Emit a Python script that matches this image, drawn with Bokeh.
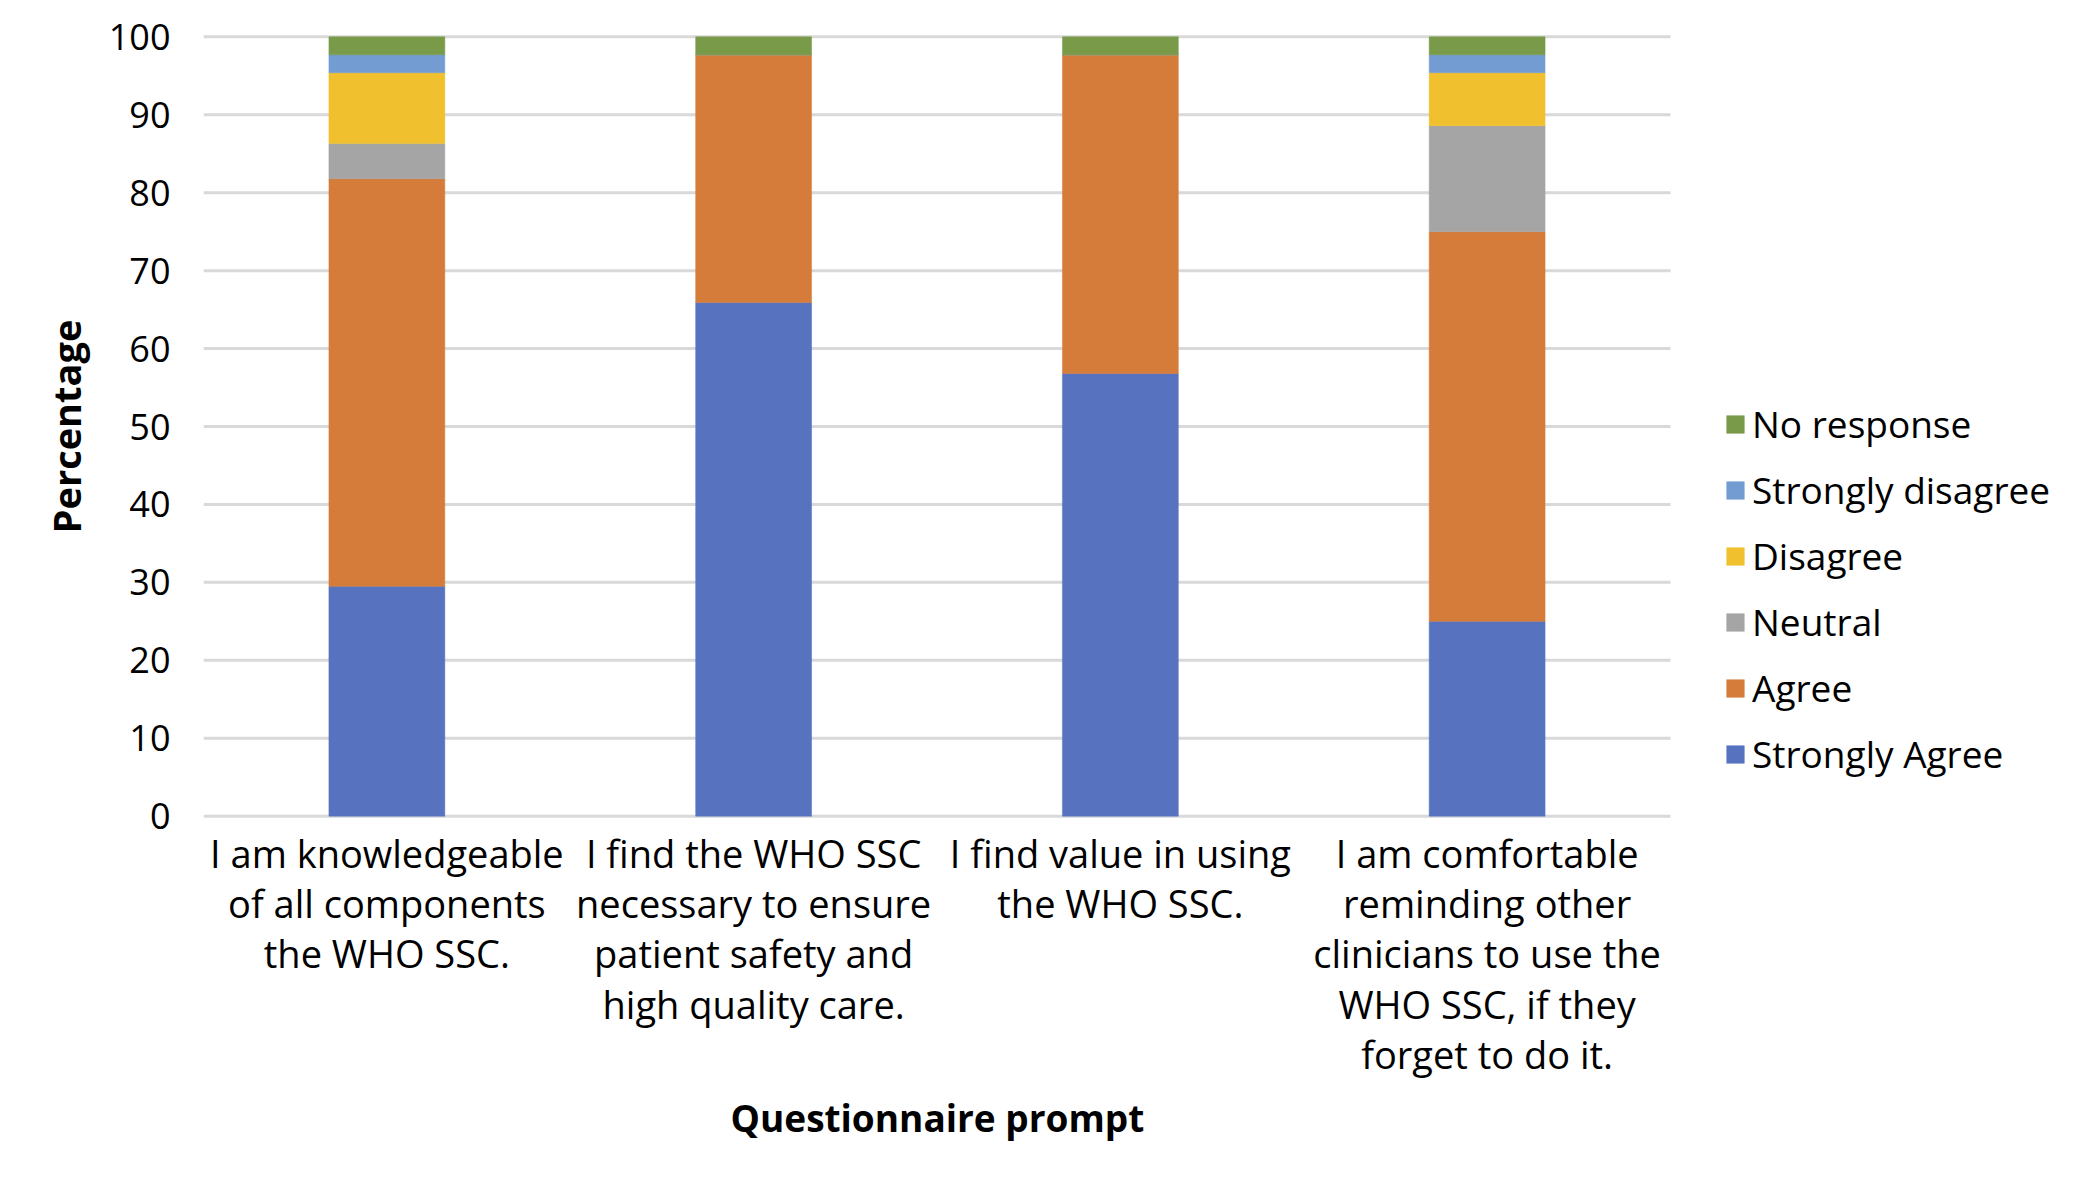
from bokeh.plotting import figure
from bokeh.models import Range1d, Legend, LegendItem, FixedTicker, ColumnDataSource, Title
from bokeh.embed import file_html
from bokeh.resources import INLINE

prompts = [
    "I am knowledgeable\nof all components\nthe WHO SSC.",
    "I find the WHO SSC\nnecessary to ensure\npatient safety and\nhigh quality care.",
    "I find value in using\nthe WHO SSC.",
    "I am comfortable\nreminding other\nclinicians to use the\nWHO SSC, if they\nforget to do it.",
]
series = ["Strongly Agree", "Agree", "Neutral", "Disagree", "Strongly disagree", "No response"]
strongly_agree = [29.5, 65.9, 56.8, 25.0]
agree = [52.3, 31.8, 40.9, 50.0]
neutral = [4.5, 0.0, 0.0, 13.6]
disagree = [9.1, 0.0, 0.0, 6.8]
strongly_disagree = [2.3, 0.0, 0.0, 2.3]
no_response = [2.3, 2.3, 2.3, 2.3]
y_ticks = [0, 10, 20, 30, 40, 50, 60, 70, 80, 90, 100]
colors = ["#5773C0", "#D57C3A", "#A5A5A5", "#F0C02F", "#739CD3", "#799A49"]

n = len(prompts)
xs = [i + 0.5 for i in range(n)]
keys = ["sa", "ag", "ne", "di", "sd", "nr"]
source = ColumnDataSource(dict(x=xs, sa=strongly_agree, ag=agree, ne=neutral,
                               di=disagree, sd=strongly_disagree, nr=no_response))

W, H = 2092, 1183
LEFT, TOP, BOTTOM = 203, 34, 365
CAT_PX = 1467  # pixel width occupied by the categories
frame_w = W - LEFT
FONT = "Open Sans"

p = figure(width=W, height=H, output_backend="svg", toolbar_location=None,
           x_range=Range1d(0, n * frame_w / CAT_PX),
           y_range=Range1d(-0.3, 100.3),
           min_border_left=LEFT, min_border_right=0, min_border_top=TOP, min_border_bottom=BOTTOM)

# horizontal gridlines spanning only the category area
p.segment(x0=[0] * len(y_ticks), x1=[n] * len(y_ticks), y0=y_ticks, y1=y_ticks,
          line_color="#D9D9D9", line_width=3, level="underlay")

renderers = p.vbar_stack(keys, x="x", width=0.316, source=source,
                         fill_color=colors, line_color=colors, line_width=0.5)

p.outline_line_color = None
p.background_fill_color = "white"
p.xgrid.grid_line_color = None
p.ygrid.grid_line_color = None

p.yaxis.ticker = FixedTicker(ticks=y_ticks)
p.xaxis.ticker = FixedTicker(ticks=xs)
p.xaxis.major_label_overrides = {x: lab for x, lab in zip(xs, prompts)}
for ax in (p.xaxis[0], p.yaxis[0]):
    ax.axis_line_color = None
    ax.major_tick_line_color = None
    ax.minor_tick_line_color = None
    ax.major_tick_out = 0
    ax.major_tick_in = 0
    ax.minor_tick_out = 0
    ax.major_label_text_font = FONT
    ax.major_label_text_color = "black"
    ax.axis_label_text_font = FONT
    ax.axis_label_text_font_style = "bold"
    ax.axis_label_text_color = "black"

p.yaxis.major_label_text_font_size = "36px"
p.yaxis.major_label_standoff = 33
p.yaxis.axis_label = "Percentage"
p.yaxis.axis_label_text_font_size = "38px"
p.yaxis.axis_label_standoff = 14

p.xaxis.major_label_text_font_size = "38px"
p.xaxis.major_label_text_line_height = 0.97
p.xaxis.major_label_standoff = 8

xtitle = Title(text="Questionnaire prompt", align="left", offset=527, standoff=13,
               text_font=FONT, text_font_size="37px", text_font_style="bold", text_color="black")
p.add_layout(xtitle, "below")

items = [LegendItem(label=series[i], renderers=[renderers[i]]) for i in range(len(series) - 1, -1, -1)]
legend = Legend(items=items, location=(1521, 39), orientation="vertical",
                padding=0, margin=0, border_line_color=None, background_fill_alpha=0,
                glyph_width=22, glyph_height=22, label_height=18, spacing=15,
                label_standoff=6, label_text_font=FONT, label_text_font_size="37px",
                label_text_color="black", label_text_baseline="middle")
p.add_layout(legend, "center")

open("out.html", "w").write(file_html(p, INLINE))
